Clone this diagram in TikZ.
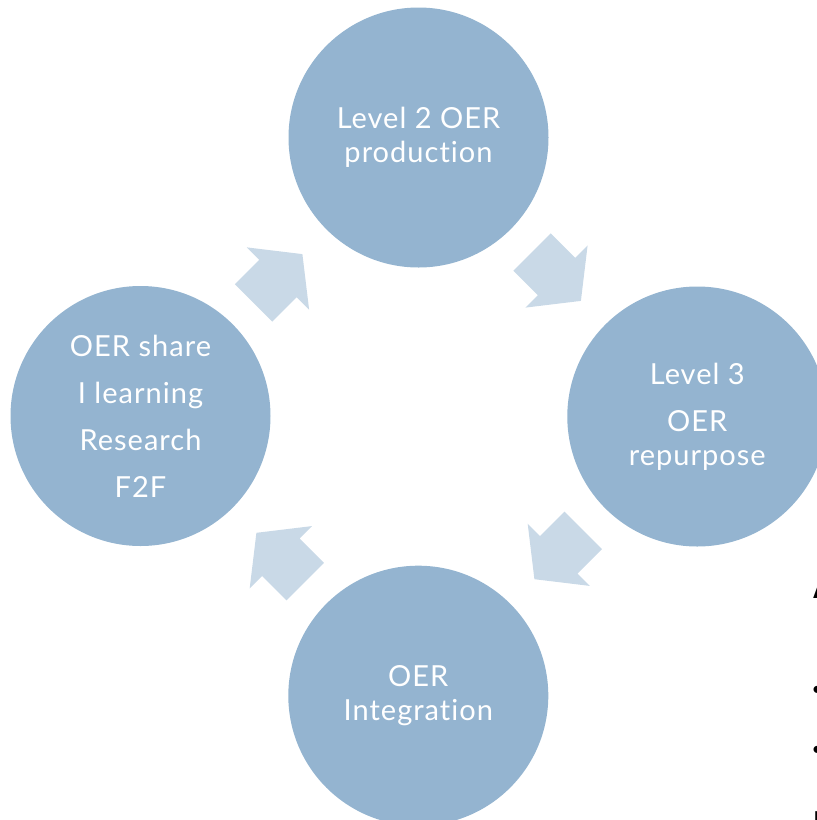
\documentclass[tikz,border=0pt]{standalone}
\usepackage{fontspec}
\setmainfont{Lato}[LetterSpace=3.5, Ligatures=NoCommon]
\newfontfamily\fragfont{Liberation Sans}
\definecolor{circfill}{RGB}{148,180,208}
\definecolor{arrfill}{RGB}{201,217,231}
\tikzset{
  stage/.style={circle, fill=circfill, draw=none, minimum size=260pt, inner sep=0pt,
    text=white, align=center, font=\fontsize{29}{34}\selectfont},
  cyclearrow/.style={fill=arrfill, draw=none},
  frag/.style={inner sep=0pt, text=black, font=\fragfont\fontsize{26}{30}\selectfont}
}
\newcommand{\cyclearrowshape}[3]{%
  \fill[cyclearrow, shift={(#1,#2)}, rotate=#3]
    (-34.5,-26.5) -- (0,-26.5) -- (0,-44) -- (34.5,0) -- (0,44) -- (0,26.5) -- (-34.5,26.5) -- cycle;}
\begin{document}
\begin{tikzpicture}[x=1pt, y=-1pt]
\useasboundingbox (0,0) rectangle (817,820);
\node[stage] (top) at (418.5,137.5) {Level 2 OER\\production};
\node[stage] (right) at (697.3,416.5) {Level 3\\[13pt]OER\\repurpose};
\node[stage] (bottom) at (418.3,695.7) {OER\\Integration};
\node[stage] (left) at (140.5,416) {OER share\\[13pt]I learning\\[13pt]Research\\[13pt]F2F};
\cyclearrowshape{278}{278.5}{45}
\cyclearrowshape{556.5}{276.5}{-45}
\cyclearrowshape{558.8}{554.8}{-135}
\cyclearrowshape{280.8}{557.2}{135}
\node[frag, anchor=base west, font=\fragfont\bfseries\fontsize{26}{30}\selectfont] (fragA) at (812.5,598) {A};
\node[frag, anchor=west] (fragb1) at (812.5,692) {•};
\node[frag, anchor=west] (fragb2) at (812.5,752) {•};
\node[frag, anchor=base west] (fragl) at (813.5,830) {l};
\end{tikzpicture}
\end{document}
